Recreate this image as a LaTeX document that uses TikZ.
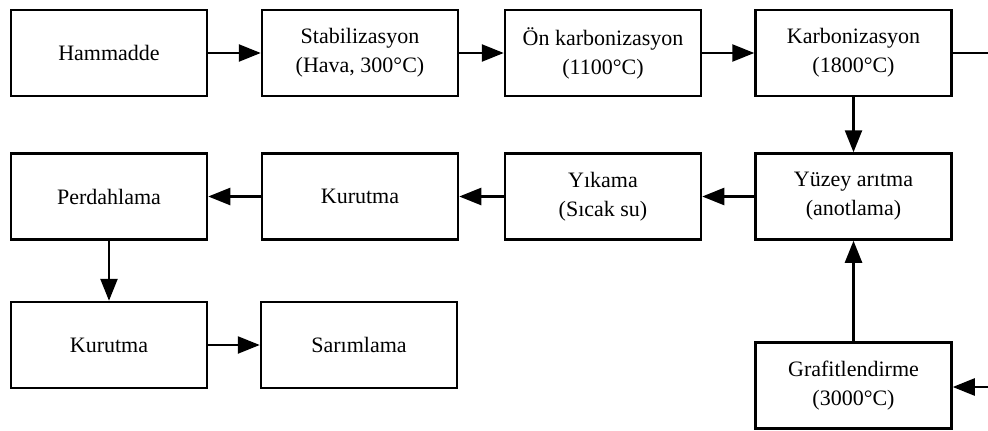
\documentclass[tikz,border=0pt]{standalone}
\usepackage{fontspec}
\setmainfont{Liberation Serif}
\usetikzlibrary{arrows.meta}
\begin{document}
\begin{tikzpicture}[x=1pt,y=-1pt,
  box/.style={draw,line width=2.5pt,minimum width=196pt,minimum height=86pt,inner sep=0pt,align=center,font=\fontsize{22}{29}\selectfont},
  conn/.style={line width=2.5pt,-{Triangle[length=22pt,width=17pt]}},
  plain/.style={line width=2.5pt}]
\useasboundingbox (0,0) rectangle (988,431);
\node[box] (ham) at (109,53) {Hammadde};
\node[box] (stab) at (360,53) {Stabilizasyon\\(Hava, 300°C)};
\node[box] (on) at (603,53) {Ön karbonizasyon\\(1100°C)};
\node[box] (karb) at (853.5,53) {Karbonizasyon\\(1800°C)};
\node[box] (perd) at (109,196.5) {Perdahlama};
\node[box] (kur1) at (360,196.5) {Kurutma};
\node[box] (yik) at (603,196.5) {Yıkama\\(Sıcak su)};
\node[box] (yuz) at (853.5,196.5) {Yüzey arıtma\\(anotlama)};
\node[box] (kur2) at (109,345) {Kurutma};
\node[box] (sar) at (359,345) {Sarımlama};
\node[box] (graf) at (853.5,385.5) {Grafitlendirme\\(3000°C)};
\coordinate (outR) at (990,53);
\coordinate (inR) at (990,387);
\draw[conn] (ham) -- (stab);
\draw[conn] (stab) -- (on);
\draw[conn] (on) -- (karb);
\draw[plain] (karb.east) -- (outR);
\draw[conn] (karb) -- (yuz);
\draw[conn] (graf) -- (yuz);
\draw[conn] (inR) -- (graf.east |- inR);
\draw[conn] (yuz) -- (yik);
\draw[conn] (yik) -- (kur1);
\draw[conn] (kur1) -- (perd);
\draw[conn] (perd) -- (kur2);
\draw[conn] (kur2) -- (sar);
\end{tikzpicture}
\end{document}
